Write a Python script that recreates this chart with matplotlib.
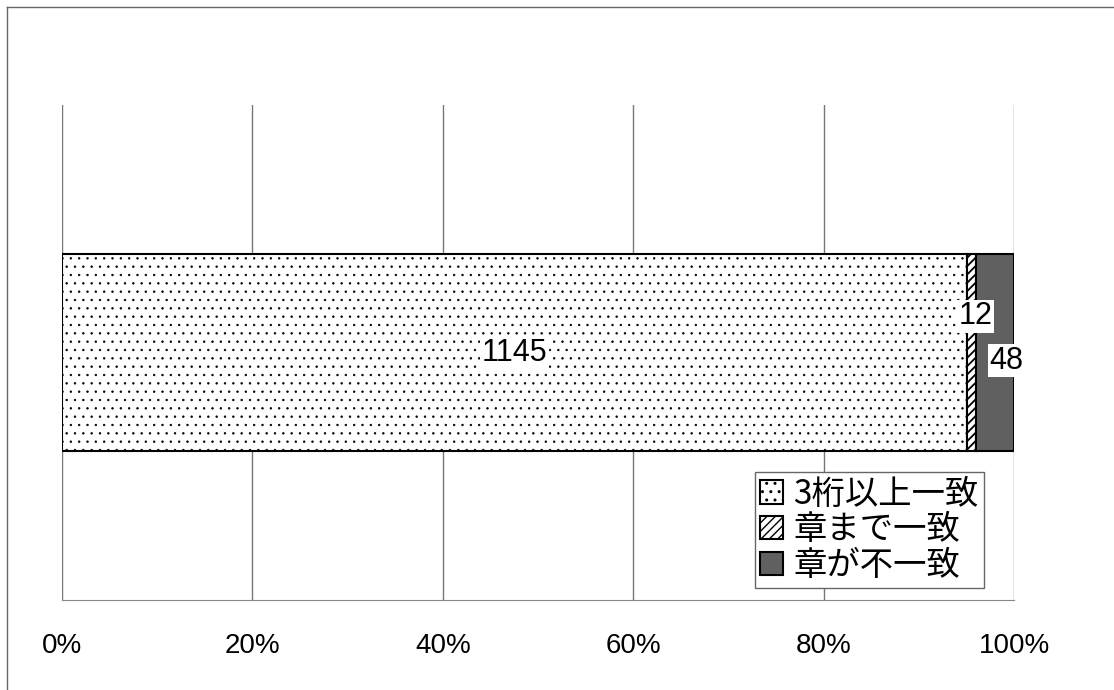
import matplotlib
matplotlib.use("Agg")
import matplotlib.pyplot as plt
from matplotlib.lines import Line2D

# data
categories = ["3桁以上一致", "章まで一致", "章が不一致"]
counts = [1145, 12, 48]
hatches = ["..", "////", ""]
colors = ["white", "white", "#606060"]
xticks = [0, 20, 40, 60, 80, 100]

plt.rcParams['font.family'] = ['Liberation Sans Narrow', 'Liberation Sans', 'DejaVu Sans']
hatch_lw = [0.5, 1.3, 1.0]

total = sum(counts)
pct = [c / total * 100 for c in counts]

fig = plt.figure(figsize=(11.14, 6.9), dpi=100)
ax = fig.add_axes([0.0557, 0.1304, 0.8546, 0.7174])

left = 0
bars = []
for i in range(len(counts)):
    plt.rcParams['hatch.linewidth'] = hatch_lw[i]
    b = ax.barh(0, pct[i], left=left, height=0.398, color=colors[i],
                edgecolor="black", linewidth=1.5, hatch=hatches[i],
                label=categories[i], zorder=3)
    bars.append((left, pct[i]))
    left += pct[i]

# labels
offsets = [(0, 0), (3, 26), (8, -6)]
for i in range(len(counts)):
    l, w = bars[i]
    ax.annotate(str(counts[i]), xy=(l + w / 2, 0), xytext=offsets[i],
                textcoords="offset points", ha="center", va="center",
                fontsize=22, zorder=5,
                bbox=dict(boxstyle="square,pad=0.05", fc="white", ec="none"))

ax.set_xlim(0, 100)
ax.set_ylim(-0.5, 0.5)
ax.set_xticks(xticks)
ax.set_xticklabels(["%d%%" % t for t in xticks], fontsize=20)
ax.tick_params(axis="x", length=0, pad=24)
ax.set_yticks([])
for t in xticks:
    ax.axvline(t, color="#777777", lw=1, zorder=1)
for s in ["left", "top", "right"]:
    ax.spines[s].set_visible(False)
ax.spines["bottom"].set_color("#888888")

leg = ax.legend(loc="lower left", bbox_to_anchor=(0.6777, 0.1478),
                bbox_transform=fig.transFigure, borderaxespad=0,
                prop={'family': ['Noto Sans CJK JP'], 'size': 24},
                handlelength=0.7, handleheight=0.7, handletextpad=0.3,
                labelspacing=0.02, borderpad=0.15, fancybox=False,
                framealpha=1, edgecolor="#666666")
leg.get_frame().set_linewidth(1)

# outer border (top and left)
fig.add_artist(Line2D([7 / 1114, 1], [1 - 7 / 690, 1 - 7 / 690], color="#666666", lw=1))
fig.add_artist(Line2D([7 / 1114, 7 / 1114], [0, 1 - 7 / 690], color="#666666", lw=1))

fig.savefig("out.png", dpi=100)
